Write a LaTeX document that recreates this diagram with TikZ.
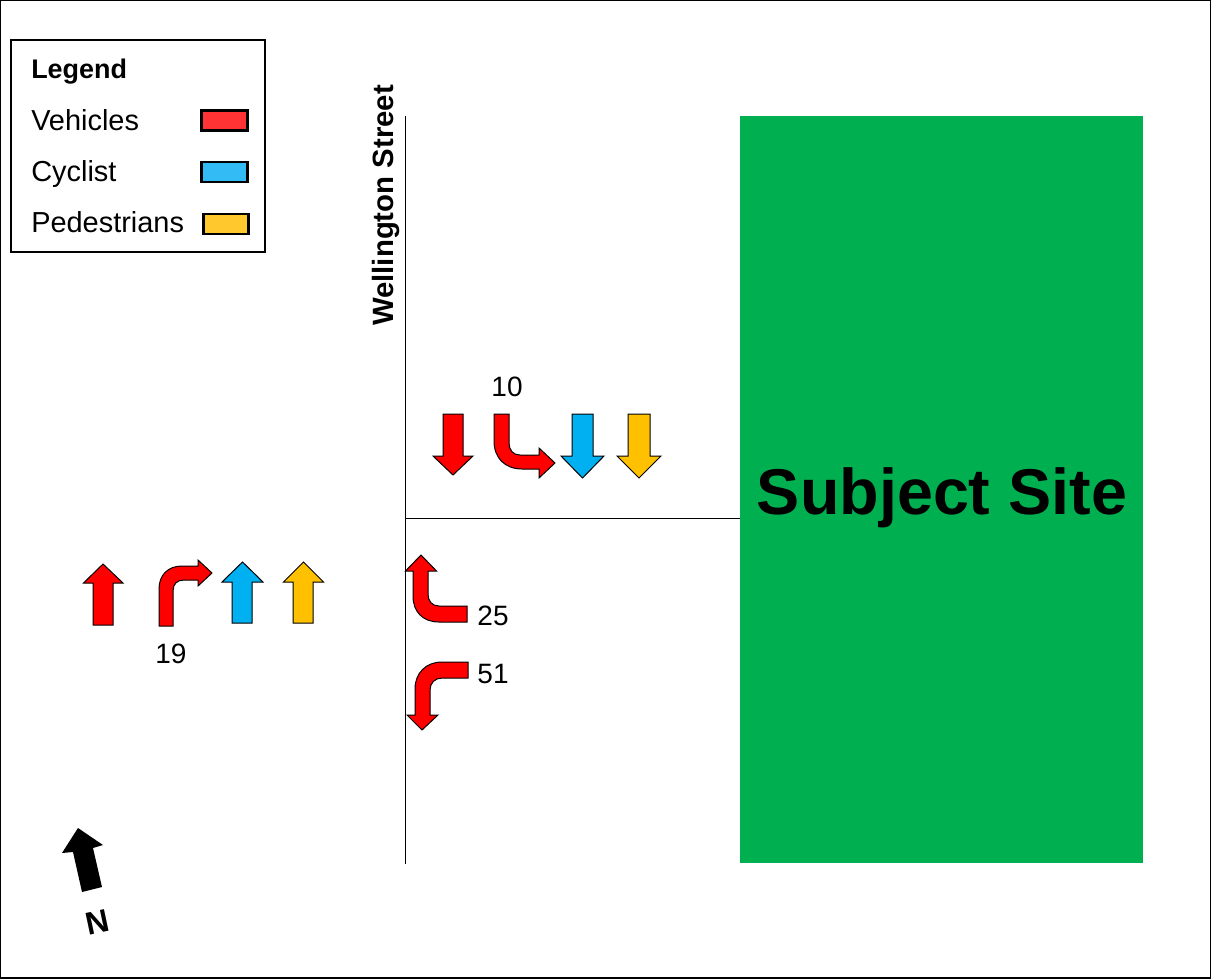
\documentclass[tikz,border=0pt]{standalone}
\usepackage{fontspec}
\setmainfont{Liberation Sans}
\newcommand{\fs}[1]{\fontsize{#1pt}{#1pt}\selectfont}
\definecolor{vehred}{HTML}{FF0000}
\definecolor{cycblue}{HTML}{00B0F0}
\definecolor{pedyellow}{HTML}{FFC000}
\definecolor{sitegreen}{HTML}{00B050}
\definecolor{legred}{HTML}{FF3333}
\definecolor{legblue}{HTML}{33BBF5}
\definecolor{legyellow}{HTML}{FFC92E}
\tikzset{
  arrowline/.style={draw=black,line width=0.75pt,line join=miter},
  veh/.style={arrowline,fill=vehred},
  cyc/.style={arrowline,fill=cycblue},
  ped/.style={arrowline,fill=pedyellow},
  road/.style={draw=black,line width=0.75pt},
  swatch/.style={draw=black,line width=2.2pt,minimum width=34pt,minimum height=15pt,inner sep=0pt},
  legtext/.style={anchor=base west,inner sep=0pt,font=\fs{21.7}},
  count/.style={anchor=center,inner sep=0pt,font=\fs{21}},
}
\begin{document}
\begin{tikzpicture}[x=0.75pt,y=-0.75pt]
\useasboundingbox (0,0) rectangle (1211,979);
\draw[black,line width=1.2pt] (0.5,0.5) rectangle (1210.5,978);
% site
\node[draw=none,fill=sitegreen,minimum width=302.25pt,minimum height=560.25pt,inner sep=0pt,anchor=north west] (site) at (740,116) {};
\node[inner sep=0pt,font=\bfseries\fs{48.5}] (sitelabel) at (942,498) {Subject Site};
% roads
\coordinate (roadN) at (405,116);
\coordinate (roadS) at (405,864);
\coordinate (roadJ) at (405,518.5);
\draw[road] (roadN) -- (roadS);
\draw[road] (roadJ) -- (roadJ -| site.west);
\node[rotate=90,inner sep=0pt,font=\bfseries\fs{22}] (street) at (385.5,205.5) {Wellington Street};
% legend
\node[draw=black,line width=1.2pt,fill=white,minimum width=190.5pt,minimum height=159pt,inner sep=0pt,anchor=north west] (legend) at (10,39) {};
\node[anchor=base west,inner sep=0pt,font=\bfseries\fs{20.2}] (legtitle) at (31,78) {Legend};
\node[legtext] (legv) at (31,130) {Vehicles};
\node[legtext] (legc) at (31,181) {Cyclist};
\node[legtext] (legp) at (31,232) {Pedestrians};
\node[swatch,fill=legred] (swv) at (224.5,120.5) {};
\node[swatch,fill=legblue] (swc) at (224.5,172) {};
\node[swatch,fill=legyellow] (swp) at (226,224) {};
% north group
\path[veh] (443,414)--(463,414)--(463,456)--(473,456)--(453,475)--(433,456)--(443,456)--cycle;
\path[veh] (494,414)--(509,414)--(509,443) .. controls (509,450) and (513,455) .. (520,455)
  --(539,455)--(539,448)--(555,463)--(539,478)--(539,469)--(522,469)
  .. controls (505,469) and (494,458) .. (494,441)--cycle;
\path[cyc] (572,414)--(593,414)--(593,456)--(604,456)--(582.5,478)--(561,456)--(572,456)--cycle;
\path[ped] (628,414)--(650,414)--(650,456)--(661,456)--(639,478)--(617,456)--(628,456)--cycle;
\node[count] (n10) at (507,387) {10};
% west group
\path[veh] (93,625)--(113,625)--(113,583)--(123,583)--(103,564)--(83.5,583)--(93,583)--cycle;
\path[veh] (159,626)--(173,626)--(173,591) .. controls (173,584) and (177,580) .. (184,580)
  --(198,580)--(198,586)--(212,573)--(198,560)--(198,566)--(182,566)
  .. controls (168,566) and (159,575) .. (159,589)--cycle;
\path[cyc] (232,623)--(252,623)--(252,582)--(263,582)--(242.5,562)--(222,582)--(232,582)--cycle;
\path[ped] (293,623)--(313,623)--(313,582)--(323.5,582)--(303.5,562)--(283.5,582)--(293,582)--cycle;
\node[count] (n19) at (171,654) {19};
% south group
\path[veh] (467,606)--(467,622)--(439,622) .. controls (423,622) and (413,612) .. (413,596)
  --(413,571)--(405.5,571)--(421,555)--(436.5,571)--(428,571)--(428,594)
  .. controls (428,601) and (432,606) .. (439,606)--cycle;
\node[count] (n25) at (493,616) {25};
\path[veh] (468,662)--(468,678)--(442,678) .. controls (435,678) and (430,683) .. (430,690)
  --(430,715)--(438,715)--(422,730)--(407,715)--(415,715)--(415,689)
  .. controls (415,673) and (426,662) .. (442,662)--cycle;
\node[count] (n51) at (493,674) {51};
% north arrow
\path[fill=black] (78,828)--(103,845)--(93,848)--(102,887)--(82,892)--(73,852)--(62,853)--cycle;
\node[rotate=12,inner sep=0pt,font=\bfseries\fs{24}] (northlabel) at (97.5,922) {N};
\end{tikzpicture}
\end{document}
